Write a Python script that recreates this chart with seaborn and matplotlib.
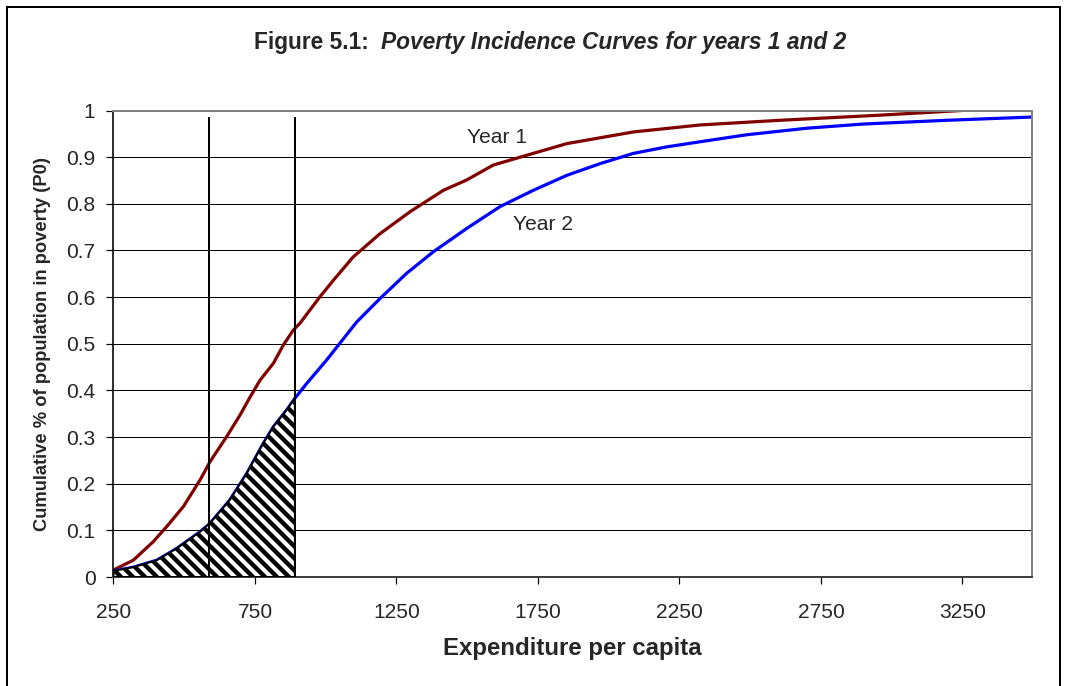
import matplotlib
matplotlib.use("Agg")
import matplotlib.pyplot as plt
from matplotlib.patches import Rectangle
from matplotlib.ticker import FuncFormatter
import numpy as np
import pandas as pd
import seaborn as sns

# Poverty incidence (cumulative share of population) by expenditure per capita
exp_year1 = [250, 320, 391, 438, 497, 556, 591, 650, 697, 733, 768, 815, 850, 885,
             909, 980, 1027, 1097, 1192, 1298, 1416, 1498, 1592, 1710, 1852, 2087,
             2323, 2605, 2959, 3248]
p0_year1 = [0.015, 0.036, 0.076, 0.108, 0.151, 0.208, 0.247, 0.301, 0.347, 0.386,
            0.422, 0.458, 0.497, 0.529, 0.544, 0.601, 0.636, 0.686, 0.736, 0.783,
            0.829, 0.851, 0.883, 0.904, 0.929, 0.954, 0.969, 0.979, 0.990, 1.000]

exp_year2 = [250, 320, 403, 473, 556, 591, 661, 721, 779, 815, 862, 891, 933, 1003,
             1110, 1192, 1286, 1380, 1498, 1616, 1734, 1852, 1969, 2087, 2205, 2323,
             2488, 2700, 2900, 3195, 3496]
p0_year2 = [0.013, 0.021, 0.036, 0.061, 0.097, 0.115, 0.165, 0.222, 0.286, 0.322,
            0.358, 0.383, 0.415, 0.465, 0.547, 0.597, 0.651, 0.697, 0.747, 0.794,
            0.829, 0.861, 0.886, 0.908, 0.922, 0.933, 0.948, 0.962, 0.971, 0.979,
            0.986]

poverty_lines = [588, 891]
poverty_line_top = 0.987
x_ticks = [250, 750, 1250, 1750, 2250, 2750, 3250]
y_ticks = [0, 0.1, 0.2, 0.3, 0.4, 0.5, 0.6, 0.7, 0.8, 0.9, 1.0]
series_names = ["Year 1", "Year 2"]
series_colors = {"Year 1": "#800000", "Year 2": "#0000FF"}

df = pd.concat([
    pd.DataFrame({"expenditure": exp_year1, "p0": p0_year1, "year": "Year 1"}),
    pd.DataFrame({"expenditure": exp_year2, "p0": p0_year2, "year": "Year 2"}),
], ignore_index=True)

sns.set_style("white")
plt.rcParams["font.family"] = ["Liberation Sans", "DejaVu Sans"]
plt.rcParams["hatch.linewidth"] = 2.2
plt.rcParams["hatch.color"] = "black"

DPI = 144
fig = plt.figure(figsize=(1068 / DPI, 686 / DPI), dpi=DPI)
fig.patch.set_facecolor("white")
ax = fig.add_axes([0.10627, 0.15889, 0.86002, 0.68003])

# Horizontal gridlines
ax.set_axisbelow(True)
ax.yaxis.grid(True, color="black", linewidth=0.5)
ax.xaxis.grid(False)

sns.lineplot(data=df, x="expenditure", y="p0", hue="year", palette=series_colors,
             hue_order=series_names, estimator=None, sort=False, legend=False,
             linewidth=1.6, ax=ax, zorder=2)

# Hatched area under the Year 2 curve up to the upper poverty line
x2 = np.array(exp_year2)
y2 = np.array(p0_year2)
mask = x2 <= poverty_lines[1]
diagonal_hatch = chr(92) * 4
ax.fill_between(x2[mask], y2[mask], 0, facecolor="white", edgecolor="black",
                hatch=diagonal_hatch, linewidth=1.0, zorder=3)

# Poverty lines
ax.vlines(poverty_lines, 0, poverty_line_top, colors="black", linewidth=1.0, zorder=4)

# Curve labels
ax.text(1605, 0.943, series_names[0], ha="center", va="center", fontsize=10.5, zorder=5)
ax.text(1768, 0.756, series_names[1], ha="center", va="center", fontsize=10.5, zorder=5)

ax.set_xlim(250, 3496)
ax.set_ylim(0, 1)
ax.set_xticks(x_ticks)
ax.set_yticks(y_ticks)
ax.yaxis.set_major_formatter(FuncFormatter(lambda v, p: f"{v:g}"))
ax.tick_params(axis="both", which="major", direction="out", length=3.5, width=0.6,
               color="black", labelsize=10.5, bottom=True, left=True)
ax.tick_params(axis="x", pad=9.5)
ax.tick_params(axis="y", pad=5.5)

for side in ["top", "right"]:
    ax.spines[side].set_color("#808080")
    ax.spines[side].set_linewidth(1.0)
ax.spines["left"].set_color("black")
ax.spines["left"].set_linewidth(0.8)
ax.spines["bottom"].set_color("#404040")
ax.spines["bottom"].set_linewidth(1.0)

ax.set_xlabel("Expenditure per capita", fontsize=12, fontweight="bold")
ax.xaxis.set_label_coords(0.5, -0.128)
ax.xaxis.label.set_va("top")
ax.set_ylabel("Cumulative % of population in poverty (P0)", fontsize=9.2, fontweight="bold")
ax.yaxis.set_label_coords(-0.068, 0.5)

# Title: bold prefix followed by bold italic text, centered as one line
title_y = 1 - 49 / 686
t1 = fig.text(0, title_y, "Figure 5.1:  ", fontsize=11.4, fontweight="bold",
              ha="left", va="baseline")
t2 = fig.text(0, title_y, "Poverty Incidence Curves for years 1 and 2", fontsize=11.4,
              fontweight="bold", fontstyle="italic", ha="left", va="baseline")
renderer = fig.canvas.get_renderer()
w1 = t1.get_window_extent(renderer).width
w2 = t2.get_window_extent(renderer).width
fig_w = fig.bbox.width
start = 550 - (w1 + w2) / 2
t1.set_x(start / fig_w)
t2.set_x((start + w1) / fig_w)

# Chart frame
fig.add_artist(Rectangle((7 / 1068, -0.05), (1060 - 7) / 1068, 1 - 7 / 686 + 0.05,
                         transform=fig.transFigure, fill=False, edgecolor="black",
                         linewidth=1.0))

fig.savefig("out.png", dpi=DPI, facecolor="white")
